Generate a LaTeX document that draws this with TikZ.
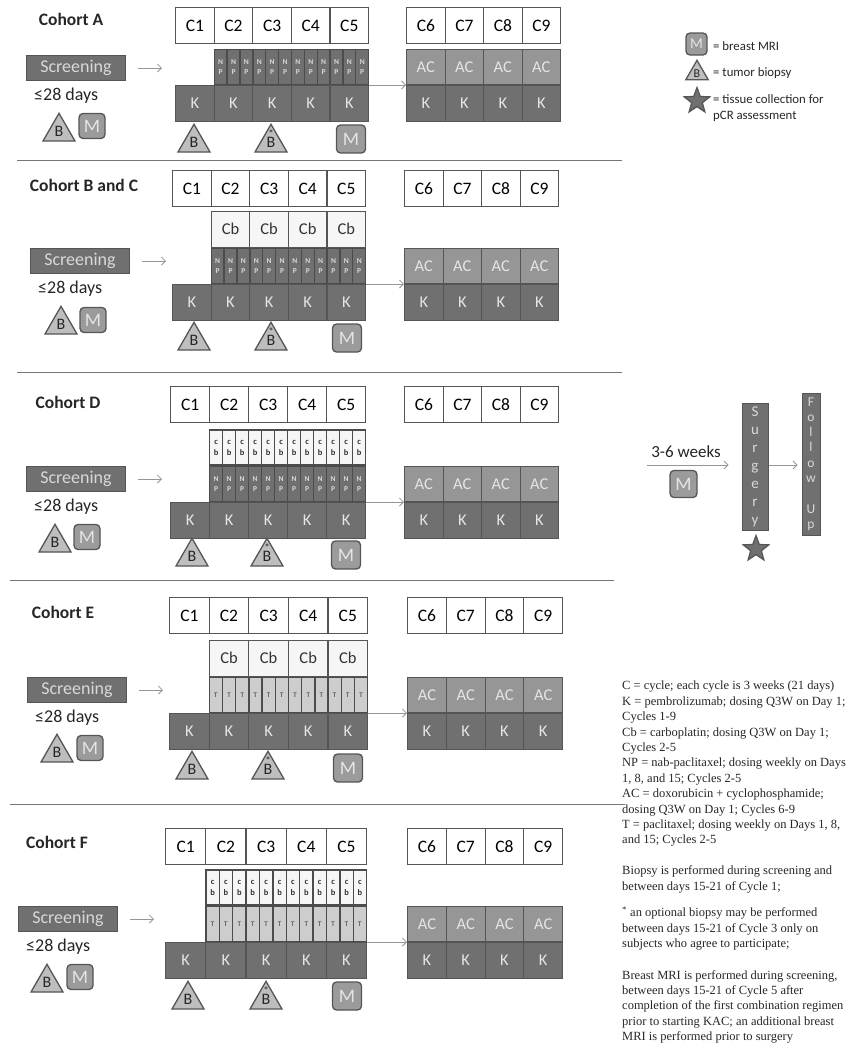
\documentclass[tikz,border=0pt]{standalone}
\usepackage{fontspec}
\setmainfont{Carlito}
\newfontfamily\notefont{Liberation Serif}
\usepackage{xcolor}
\usetikzlibrary{positioning,shapes.geometric,arrows.meta,calc}
\definecolor{edgegray}{RGB}{85,85,85}
\definecolor{kgray}{RGB}{112,112,112}
\definecolor{npgray}{RGB}{112,112,112}
\definecolor{acgray}{RGB}{150,150,150}
\definecolor{mgray}{RGB}{155,155,155}
\definecolor{bgray}{RGB}{190,190,190}
\definecolor{tgray}{RGB}{205,205,205}
\definecolor{cbgray}{RGB}{246,246,246}
\definecolor{flowgray}{RGB}{150,150,150}

\begin{document}
\begin{tikzpicture}[x=1pt,y=-1pt,
        cyc/.style={draw=edgegray, line width=1.2pt, fill=white, inner sep=0pt,
                    anchor=north west, minimum height=36pt, font=\fontsize{17.5}{18}\selectfont},
        ksq/.style={cyc, fill=kgray, text=white!90!black, font=\fontsize{16.5}{18}\selectfont},
        acq/.style={cyc, fill=acgray, text=white!90!black, font=\fontsize{16.5}{18}\selectfont},
        cbw/.style={cyc, fill=cbgray, anchor=south west, text=black!80, font=\fontsize{16.5}{18}\selectfont},
        thin cell/.style={draw=edgegray!90!black, line width=1.3pt, inner sep=0pt, anchor=south west,
                    minimum height=35pt, align=center},
        npc/.style={thin cell, fill=npgray, text=white!85!black,
                    font=\fontsize{7.5}{10.5}\selectfont\bfseries},
        cbn/.style={thin cell, fill=cbgray, text=black!80,
                    font=\fontsize{8.5}{11}\selectfont\bfseries},
        tcl/.style={thin cell, fill=tgray, text=black!80, font=\fontsize{7}{8}\selectfont},
        scr/.style={draw=edgegray, fill=kgray, line width=1pt, anchor=north west, inner sep=0pt,
                    minimum width=99pt, minimum height=25pt, text=white!85!black,
                    font=\fontsize{18}{19}\selectfont},
        mri/.style={draw=edgegray, fill=mgray, line width=1.3pt, rounded corners=4pt, inner sep=0pt,
                    minimum width=27pt, minimum height=27pt, text=white!90!black,
                    font=\fontsize{19}{20}\selectfont},
        bio/.style={regular polygon, regular polygon sides=3, draw=edgegray, fill=bgray,
                    line width=1.3pt, inner sep=0pt, minimum size=37pt, anchor=corner 1,
                    text=black!85, font=\fontsize{16}{16}\selectfont},
        tis/.style={star, star points=5, star point ratio=2.4, draw=edgegray, fill=kgray,
                    line width=1.2pt, inner sep=0pt, minimum size=27pt},
        bar/.style={draw=edgegray, fill=kgray, line width=1pt, inner sep=0pt, align=center,
                    text=white!85!black},
        flow/.style={flowgray, line width=0.8pt, -{Straight Barb[length=4pt,width=8pt]}},
        sepline/.style={edgegray!80, line width=0.9pt},
        txt/.style={inner sep=0pt, text=black!85}
      ]
        \useasboundingbox (0,0) rectangle (853,1047);
        % One tuple per cohort: label, cycle row, regimen boxes, screening, markers
        \foreach \co/\lab/\lx/\ly/\xa/\xb/\yc/\yk/\xc/\xd/\sx/\sy/\tx/\ty/\mx/\my/\bx/\by/\qx/\nx/\ny in {
            a/Cohort A/71/19/175/368/7/85/406/560/26/55/59/112/92/126/194/123/271/351/139,
            b/Cohort B and C/84/185/172/365/170/284/404/558/30/248/61/305/93/320/194/321/271/347/338,
            d/Cohort D/68/402/170/365/386/502/404/558/26/466/55/523/87/537/192/537/267/346/555,
            e/Cohort E/63/612/169/367/597/713/407/562/27/677/57/733/90/748/192/750/268/348/768,
            f/Cohort F/57/842/165/366/828/942/407/562/18/906/47/963/80/977/188/980/266/347/996}{
          \pgfmathsetmacro{\wa}{(\xb-\xa)/5}
          \pgfmathsetmacro{\wb}{(\xd-\xc)/4}
          \node[txt, font=\fontsize{17.5}{18}\selectfont\bfseries] (L\co) at (\lx,\ly) {\lab};
          % cycles 1-5 with the K row under them
          \foreach \i in {1,...,5}{
            \node[cyc, minimum width={\wa*1pt}] (C\i\co) at ({\xa+(\i-1)*\wa},\yc) {C\i};
            \node[ksq, minimum width={\wa*1pt}] (K\i\co) at ({\xa+(\i-1)*\wa},\yk) {K};
          }
          % cycles 6-9 with AC on K
          \foreach \i in {6,...,9}{
            \node[cyc, minimum width={\wb*1pt}] (C\i\co) at ({\xc+(\i-6)*\wb},\yc) {C\i};
            \node[ksq, minimum width={\wb*1pt}] (K\i\co) at ({\xc+(\i-6)*\wb},\yk) {K};
            \node[acq, minimum width={\wb*1pt}, minimum height=35pt, anchor=south west] (AC\i\co) at (K\i\co.north west) {AC};
          }
          \node[scr] (S\co) at (\sx,\sy) {Screening};
          \node[txt, font=\fontsize{18}{18}\selectfont, anchor=north west] (D\co) at ([xshift=8pt,yshift=-7pt]S\co.south west) {≤28 days};
          \node[bio] (T\co) at (\tx,\ty) {\raisebox{-3pt}{B}};
          \node[mri, minimum width=26pt, minimum height=25pt] (M\co) at (\mx,\my) {M};
          \node[bio] (B\co) at (\bx,\by) {\raisebox{-3pt}{B}};
          \node[bio] (Q\co) at (\qx,\by) {\raisebox{-3pt}{B}};
          \node[txt, font=\fontsize{11}{11}\selectfont] (R\co) at ([yshift=9pt]Q\co.center) {*};
          \node[mri, minimum width=29pt, minimum height=28pt] (N\co) at (\nx,\ny) {M};
          \coordinate (E\co) at (\sx+136,\sy+13);
          \draw[flow, shorten <=12pt] (S\co.east) -- (E\co);
          \draw[flow] (K5\co.north east) -- (K6\co.north west);
        }
        % twelve weekly cells per cohort: NP
        \foreach \co/\w in {a/38.6,b/38.6,d/39}{
          \foreach \i in {0,...,11}
            \node[npc, minimum width={\w/3*1pt}] (NP\i\co) at ([xshift={\i*\w/3*1pt}]K2\co.north west) {N\\P};
        }
        % twelve weekly cells per cohort: T
        \foreach \co/\w in {e/39.6,f/40.2}{
          \foreach \i in {0,...,11}
            \node[tcl, minimum width={\w/3*1pt}] (TC\i\co) at ([xshift={\i*\w/3*1pt}]K2\co.north west) {T};
        }
        % carboplatin once per cycle
        \foreach \co/\w/\up in {b/38.6/NP,e/39.6/TC}{
          \foreach \i in {0,...,3}
            \node[cbw, minimum width={\w*1pt}] (CB\i\co) at ([xshift={\i*\w*1pt}]\up0\co.north west) {Cb};
        }
        % carboplatin weekly
        \foreach \co/\w/\up in {d/39/NP,f/40.2/TC}{
          \foreach \i in {0,...,11}
            \node[cbn, minimum width={\w/3*1pt}] (CC\i\co) at (\up\i\co.north west) {c\\b};
        }
        % separators
        \foreach \y/\xl/\xr in {160/17/622,372/17/622,580/10/614,804/10/625}
          \draw[sepline] (\xl,\y) -- (\xr,\y);
        % surgery and follow up
        \coordinate (W0) at (647,465);
        \node[bar, minimum width=26pt, minimum height=127pt, font=\fontsize{15}{18}\selectfont] (Surg) at (755,466.5)
              {S\\u\\r\\g\\e\\r\\y};
        \node[bar, minimum width=18pt, minimum height=142pt, font=\fontsize{13.5}{15.3}\selectfont] (Foll) at (811,464)
              {\raisebox{-3pt}{F}\\\raisebox{-3pt}{o}\\\raisebox{-3pt}{l}\\\raisebox{-3pt}{l}\\\raisebox{-3pt}{o}\\\raisebox{-3pt}{w}\\ \\\raisebox{-3pt}{U}\\\raisebox{-3pt}{p}};
        \draw[flow, shorten >=13pt] (W0) -- (Surg.west |- W0);
        \draw[flow, shorten >=4pt] (Surg.east |- W0) -- (Foll.west |- W0);
        \node[txt, font=\fontsize{17}{18}\selectfont] (Wks) at (686,452) {3-6 weeks};
        \node[mri] (MS) at (683.5,484) {M};
        \node[tis] (TS) at (756,549) {};
        % legend
        \node[mri, minimum width=21pt, minimum height=22pt, font=\fontsize{15}{16}\selectfont] (MK) at (696.5,44) {M};
        \node[bio, minimum size=26pt, font=\fontsize{12}{12}\selectfont] (BK) at (697,59) {\raisebox{-2pt}{B}};
        \node[tis] (SK) at (697,101) {};
        \node[txt, anchor=west, font=\fontsize{12.8}{13}\selectfont] (LM) at (713,46) {= breast MRI};
        \node[txt, anchor=west, font=\fontsize{12.8}{13}\selectfont] (LB) at (713,73) {= tumor biopsy};
        \node[txt, anchor=north west, align=left, font=\fontsize{12.8}{16}\selectfont] (LS) at (713,94)
              {= tissue collection for\\pCR assessment};
        % abbreviations and notes
        \node[txt, anchor=north west, align=left, font=\notefont\fontsize{12.5}{15.4}\selectfont] (Notes) at (622,681)
              {C = cycle; each cycle is 3 weeks (21 days)\\
               K = pembrolizumab; dosing Q3W on Day 1;\\
               Cycles 1-9\\
               Cb = carboplatin; dosing Q3W on Day 1;\\
               Cycles 2-5\\
               NP = nab-paclitaxel; dosing weekly on Days\\
               1, 8, and 15; Cycles 2-5\\
               AC = doxorubicin + cyclophosphamide;\\
               dosing Q3W on Day 1; Cycles 6-9\\
               T = paclitaxel; dosing weekly on Days 1, 8,\\
               and 15; Cycles 2-5\\[15.4pt]
               Biopsy is performed during screening and\\
               between days 15-21 of Cycle 1;\\[11.5pt]
               \textsuperscript{*} an optional biopsy may be performed\\
               between days 15-21 of Cycle 3 only on\\
               subjects who agree to participate;\\[16pt]
               Breast MRI is performed during screening,\\
               between days 15-21 of Cycle 5 after\\
               completion of the first combination regimen\\
               prior to starting KAC; an additional breast\\
               MRI is performed prior to surgery};
      \end{tikzpicture}
\end{document}
